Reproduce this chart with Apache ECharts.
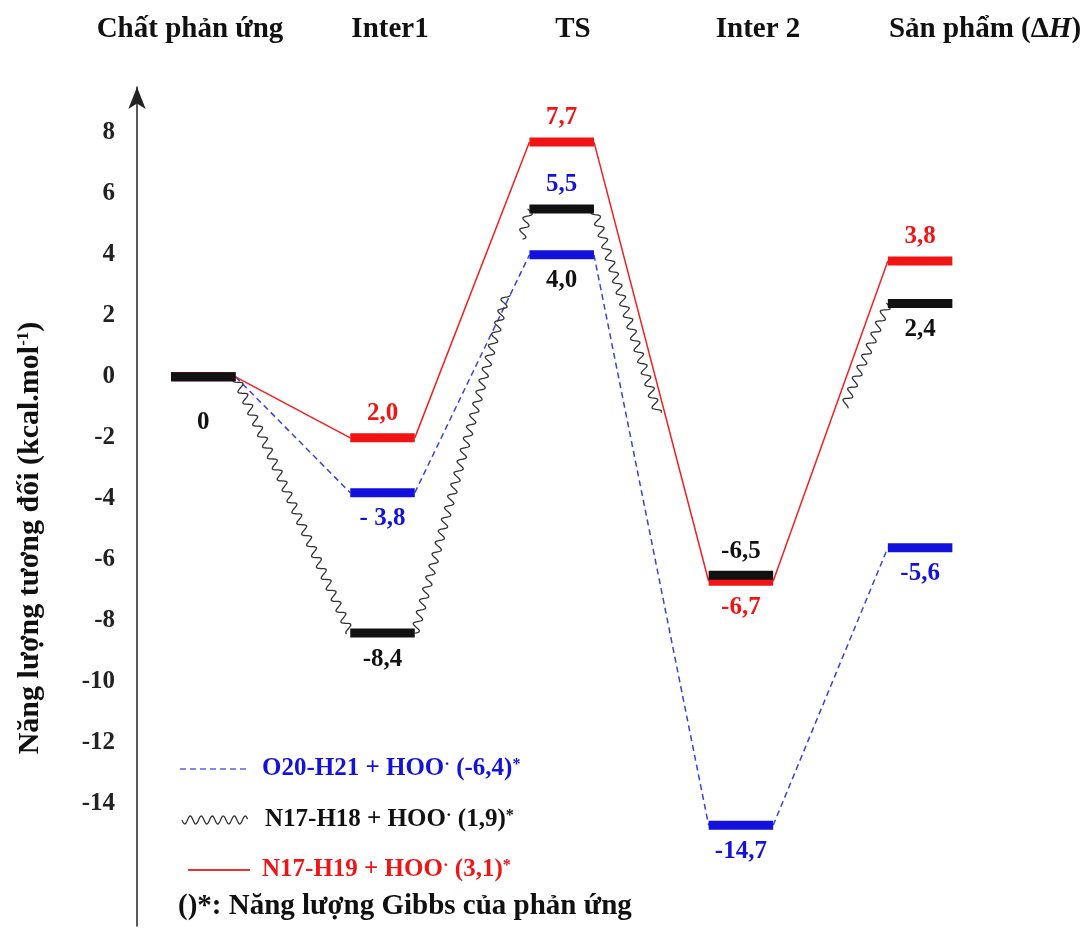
<!DOCTYPE html>
<html>
<head>
<meta charset="utf-8">
<script src="https://cdn.jsdelivr.net/npm/echarts@6/dist/echarts.min.js"></script>
<style>
html,body{margin:0;padding:0;background:#fff;}
#chart{width:1087px;height:938px;}
</style>
</head>
<body>
<div id="chart"></div>
<script>
// ---------- data ----------
const stages = ['Chất phản ứng', 'Inter1', 'TS', 'Inter 2', 'Sản phẩm (ΔH)'];
const yTicks = [8, 6, 4, 2, 0, -2, -4, -6, -8, -10, -12, -14];

const o20h21 = [0, -3.8, 4.0, -14.7, -5.6];   // blue dashed
const n17h18 = [0, -8.4, 5.5, -6.5, 2.4];     // black wavy
const n17h19 = [0, -2.0, 7.7, -6.7, 3.8];     // red solid

const o20h21Labels = ['', '- 3,8', '4,0', '-14,7', '-5,6'];
const n17h18Labels = ['0', '-8,4', '5,5', '-6,5', '2,4'];
const n17h19Labels = ['', '2,0', '7,7', '-6,7', '3,8'];

const legendNames = ['O20-H21 + HOO', 'N17-H18 + HOO', 'N17-H19 + HOO'];
const legendGibbs = ['(-6,4)', '(1,9)', '(3,1)'];
const footnote = '()*: Năng lượng Gibbs của phản ứng';
const yName = 'Năng lượng tương đối (kcal.mol';

// ---------- style ----------
const FONT = '"Liberation Serif", "Times New Roman", serif';
const RED = '#f01414', BLUE = '#1212dc', BLACK = '#111111';
const HW = 0.18, BAR_H = 9;

function wavyPts(p0, p1, t0, t1, amp, wl) {
  const dx = p1[0] - p0[0], dy = p1[1] - p0[1];
  const len = Math.sqrt(dx * dx + dy * dy);
  const ux = dx / len, uy = dy / len, nx = -uy, ny = ux;
  const pts = [];
  for (let s = t0 * len; s <= t1 * len; s += 0.8) {
    const o = amp * Math.sin(2 * Math.PI * s / wl);
    pts.push([p0[0] + ux * s + nx * o, p0[1] + uy * s + ny * o]);
  }
  return pts;
}

function makeSeries(name, values, labels, cfg) {
  return {
    type: 'custom', name: name, coordinateSystem: 'cartesian2d', clip: false,
    z: cfg.z,
    data: values.map((v, i) => [i, v]),
    renderItem: function (params, api) {
      const i = api.value(0), v = api.value(1);
      const L = api.coord([i - HW, v]), R = api.coord([i + HW, v]);
      const children = [];
      if (i < values.length - 1) {
        const N = api.coord([i + 1 - HW, values[i + 1]]);
        if (cfg.kind === 'wavy') {
          cfg.visible[i].forEach(r => {
            children.push({ type: 'polyline', shape: { points: wavyPts(R, N, r[0], r[1], 4, 12) },
              style: { stroke: '#333', lineWidth: 1.3, fill: null } });
          });
        } else {
          children.push({ type: 'line', shape: { x1: R[0], y1: R[1], x2: N[0], y2: N[1] },
            style: { stroke: cfg.lineColor, lineWidth: 1.5, lineDash: cfg.dash || null } });
        }
      }
      children.push({ type: 'rect', shape: { x: L[0], y: L[1] - BAR_H / 2, width: R[0] - L[0], height: BAR_H },
        style: { fill: cfg.color } });
      if (labels[i]) {
        const c = api.coord([i, v]);
        const off = (cfg.labelPos[i] === 'top' ? -24 : 26) + (i === 0 ? 20 : 0);
        children.push({ type: 'text', x: c[0], y: c[1] + off,
          style: { text: labels[i], fill: cfg.labelColor[i], font: 'bold 25px ' + FONT,
            align: 'center', verticalAlign: 'middle' } });
      }
      return { type: 'group', children: children };
    }
  };
}

const series = [
  makeSeries(legendNames[0], o20h21, o20h21Labels, {
    kind: 'line', color: BLUE, lineColor: '#3344dd', dash: [6, 4], z: 2,
    labelPos: ['bottom', 'bottom', 'bottom', 'bottom', 'bottom'],
    labelColor: [BLUE, BLUE, BLACK, BLUE, BLUE]
  }),
  makeSeries(legendNames[2], n17h19, n17h19Labels, {
    kind: 'line', color: RED, lineColor: '#f02020', z: 3,
    labelPos: ['top', 'top', 'top', 'bottom', 'top'],
    labelColor: [RED, RED, RED, RED, RED]
  }),
  makeSeries(legendNames[1], n17h18, n17h18Labels, {
    kind: 'wavy', color: BLACK, z: 4,
    visible: [[[0, 1]], [[0, 0.8], [0.93, 1]], [[0, 0.56]], [[0.62, 1]]],
    labelPos: ['bottom', 'bottom', 'top', 'top', 'bottom'],
    labelColor: [BLACK, BLACK, BLUE, BLACK, BLACK]
  })
];

// ---------- graphic (headers, legend, axis name) ----------
const headerX = [190, 390, 573, 758, 985];
const graphics = stages.map((s, k) => ({
  type: 'text', x: headerX[k], y: 30,
  style: { text: s.replace('ΔH', 'Δ{i|H}'), font: 'bold 29px ' + FONT, fill: '#111',
    align: 'center', verticalAlign: 'middle',
    rich: { i: { fontStyle: 'italic', fontWeight: 'bold', fontSize: 29, fontFamily: FONT, fill: '#111' } } }
}));

graphics.push({
  type: 'text', x: 30, y: 538, rotation: Math.PI / 2,
  style: { text: yName + '{sup|-1}' + ')', font: 'bold 30px ' + FONT, fill: '#111',
    align: 'center', verticalAlign: 'middle',
    rich: { sup: { fontSize: 17, fontWeight: 'bold', fontFamily: FONT, verticalAlign: 'top', fill: '#111' } } }
});

const legendY = [769, 820, 870];
const legendColors = [BLUE, '#111', RED];
graphics.push({ type: 'line', shape: { x1: 180, y1: legendY[0], x2: 246, y2: legendY[0] },
  style: { stroke: '#5566dd', lineWidth: 1.5, lineDash: [6, 4] } });
graphics.push({ type: 'polyline', shape: { points: wavyPts([182, legendY[1]], [248, legendY[1]], 0, 1, 4, 11) },
  style: { stroke: '#333', lineWidth: 1.3, fill: null } });
graphics.push({ type: 'line', shape: { x1: 188, y1: legendY[2], x2: 250, y2: legendY[2] },
  style: { stroke: '#f03030', lineWidth: 2 } });
const legendTextX = [262, 265, 262];
legendNames.forEach((nm, k) => {
  graphics.push({
    type: 'text', x: legendTextX[k], y: legendY[k],
    style: { text: nm + '{dot|·} ' + legendGibbs[k] + '{sup|*}', font: 'bold 25px ' + FONT,
      fill: legendColors[k], align: 'left', verticalAlign: 'middle',
      rich: {
        dot: { fontSize: 17, fontWeight: 'bold', fontFamily: FONT, verticalAlign: 'top', fill: legendColors[k] },
        sup: { fontSize: 16, fontWeight: 'bold', fontFamily: FONT, verticalAlign: 'top', fill: legendColors[k] }
      } }
  });
});
graphics.push({ type: 'text', x: 178, y: 907,
  style: { text: footnote, font: 'bold 29px ' + FONT, fill: '#111', align: 'left', verticalAlign: 'middle' } });

// ---------- option ----------
const option = {
  backgroundColor: '#fff',
  animation: false,
  grid: { left: 137, right: 54, top: 87, bottom: 12 },
  xAxis: { type: 'value', min: -0.37, max: 4.63, show: false },
  yAxis: {
    type: 'value', min: -18, max: 9.5, interval: 2,
    axisLine: { show: true, onZero: false, symbol: ['none', 'arrow'], symbolSize: [13, 22],
      lineStyle: { color: '#222', width: 1.5 } },
    axisTick: { show: false },
    splitLine: { show: false },
    axisLabel: {
      margin: 22, fontSize: 25, fontWeight: 'bold', fontFamily: FONT, color: '#222',
      formatter: v => (yTicks.indexOf(v) >= 0 ? String(v) : '')
    }
  },
  graphic: { elements: graphics },
  series: series
};

const chart = echarts.init(document.getElementById('chart'), null, { renderer: 'canvas' });
chart.setOption(option);
</script>
</body>
</html>
